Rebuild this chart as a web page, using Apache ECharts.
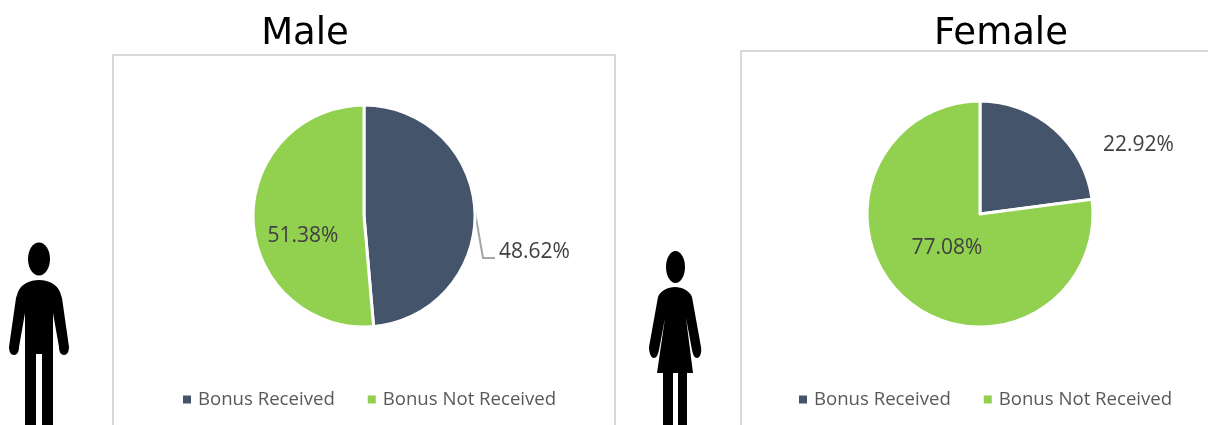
<!DOCTYPE html>
<html>
<head>
<meta charset="utf-8">
<title>Bonus by gender</title>
<script src="https://cdn.jsdelivr.net/npm/echarts@6/dist/echarts.min.js"></script>
<style>
    html, body { margin: 0; padding: 0; background: #fff; overflow: hidden; }
    #chart { width: 1208px; height: 425px; }
</style>
</head>
<body>
<div id="chart"></div>
<script>
const categories = ['Bonus Received', 'Bonus Not Received'];
const maleValues = [48.62, 51.38];
const femaleValues = [22.92, 77.08];
const colors = ['#44546a', '#92d050'];

const chart = echarts.init(document.getElementById('chart'), null, { renderer: 'canvas' });

const LABEL_FONT = '"Open Sans", "Noto Sans", sans-serif';

// silhouettes next to each panel
const manPath = 'M39 280 C30 280 21 284 18 292 L16 298 L9 347 C9 352 11 355 14 355 C17 355 19 352 19 347 L25 313 L25 425 L36 425 L36 354 L42 354 L42 425 L53 425 L53 313 L59 347 C59 352 61 355 64 355 C67 355 69 352 69 347 L62 298 L60 292 C57 284 48 280 39 280 Z';
const womanPath = 'M675 287 C668 287 660 291 658 297 L649 347 C649 353 651 358 654 358 C657 358 658 354 659 350 L665 318 L657 373 L663 373 L663 425 L673 425 L673 373 L678 373 L678 425 L687 425 L687 373 L693 373 L686 318 L692 350 C693 354 694 358 697 358 C700 358 702 353 701 347 L692 297 C690 291 682 287 675 287 Z';
echarts.graphic.registerShape('manBody', echarts.graphic.extendPath(manPath, {}));
echarts.graphic.registerShape('womanBody', echarts.graphic.extendPath(womanPath, {}));

function pieSeries(values, center, radius, labelSpots) {
    return {
        type: 'pie',
        center: center,
        radius: radius,
        startAngle: 90,
        clockwise: true,
        animation: false,
        silent: true,
        itemStyle: { borderColor: '#fff', borderWidth: 3 },
        label: {
            show: true,
            position: 'outside',
            color: '#404040',
            fontFamily: LABEL_FONT,
            fontSize: 21,
            formatter: p => p.value.toFixed(2) + '%'
        },
        labelLine: { show: false },
        labelLayout: params => ({
            x: labelSpots[params.dataIndex][0],
            y: labelSpots[params.dataIndex][1],
            align: 'center',
            verticalAlign: 'middle'
        }),
        data: values.map((v, i) => ({
            name: categories[i],
            value: v,
            itemStyle: { color: colors[i] }
        }))
    };
}

function legendAt(left) {
    return {
        left: left,
        top: 390,
        padding: 0,
        icon: 'rect',
        itemWidth: 10,
        itemHeight: 10,
        itemGap: 31,
        selectedMode: false,
        textStyle: {
            color: '#595959',
            fontFamily: LABEL_FONT,
            fontSize: 18.6,
            padding: [0, 0, 0, 1]
        },
        data: categories
    };
}

function titleAt(text, left) {
    return {
        text: text,
        left: left,
        top: 29,
        textAlign: 'center',
        textVerticalAlign: 'middle',
        textStyle: { fontFamily: '"DejaVu Sans", sans-serif', fontSize: 37, fontWeight: 'normal', color: '#000' }
    };
}

function frame(x, y, w, h) {
    return {
        type: 'rect',
        shape: { x: x, y: y, width: w, height: h },
        style: { fill: '#fff', stroke: '#d9d9d9', lineWidth: 2 },
        z: -1
    };
}

chart.setOption({
    animation: false,
    title: [titleAt('Male', 300), titleAt('Female', 996)],
    legend: [legendAt(181), legendAt(797)],
    graphic: [
        frame(113, 55, 502, 390),
        frame(741, 51, 490, 394),
        { type: 'ellipse', shape: { cx: 39, cy: 259, rx: 11, ry: 16.5 }, style: { fill: '#000' } },
        { type: 'manBody', style: { fill: '#000' } },
        { type: 'ellipse', shape: { cx: 675.5, cy: 267, rx: 9.5, ry: 16 }, style: { fill: '#000' } },
        { type: 'womanBody', style: { fill: '#000' } },
        { type: 'polyline', shape: { points: [[475, 212], [483, 258], [495, 258]] }, style: { fill: 'none', stroke: '#a6a6a6', lineWidth: 2 } }
    ],
    series: [
        pieSeries(maleValues, [364, 216], 111, [[534.5, 252], [303, 236]]),
        pieSeries(femaleValues, [980, 214], 113, [[1138.5, 145], [947, 248]])
    ]
});
</script>
</body>
</html>
